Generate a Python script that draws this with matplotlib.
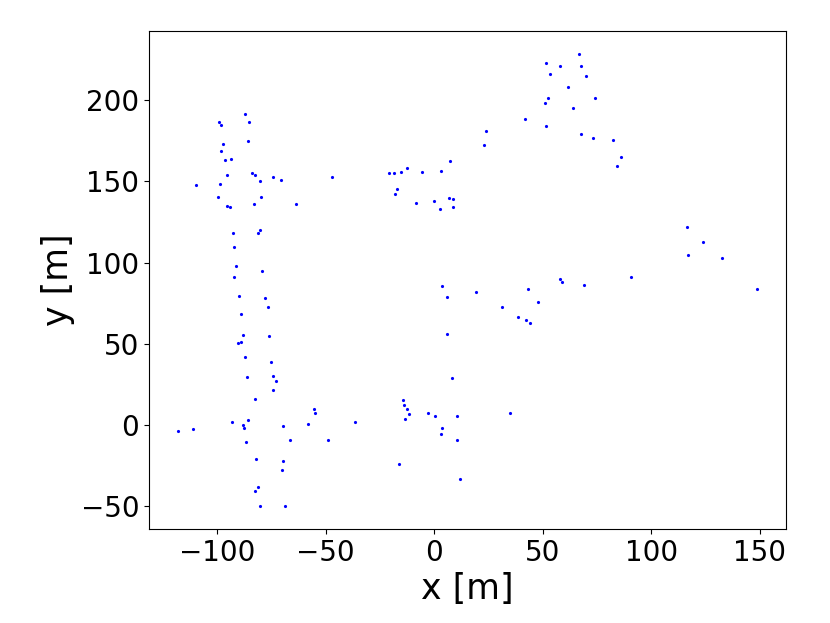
import numpy as np
import matplotlib.pyplot as plt

# puntos (x, y en metros)
x_m = [-87.0, -99.0, -98.1, -85.4, -85.9, -97.2, -98.4, -96.5, -93.8, -95.7,
       -109.8, -98.9, -84.2, -82.6, -80.4, -74.1, -70.8, -47.1, -99.5, -79.9,
       -95.7, -94.3, -82.9, -63.9, -92.8, -80.2, -81.3, -92.1, -91.4, -79.4,
       -92.1, -90.0, -78.2, -76.5, -89.1, -88.2, -76.2, -89.1, -90.2, -87.2,
       -75.1, -86.3, -74.4, -73.1, -74.1, -82.7, -55.2, -55.1, -93.1, -85.6,
       -88.2, -87.7, -69.5, -58.3, -36.7, -118.1, -111.3, -86.6, -66.6, -48.8,
       -82.2, -69.6, -70.2, -81.0, -82.5, -80.2, -68.9,
       8.3, -14.4, -14.1, -12.7, -11.6, -13.5, -2.8, 0.5, 10.6, 34.8,
       3.8, 3.1, 10.3, -16.0, 12.1,
       22.8, 23.9, 7.5, -20.6, -18.5, -15.5, -12.3, -5.7, 3.1, -17.2,
       -18.1, -8.4, 0.0, 7.0, 8.9, 2.9, 8.9,
       3.8, 5.7, 19.2, 6.1, 31.3, 38.8, 42.5, 44.0, 43.4, 47.8, 58.0, 59.0,
       66.8, 51.4, 58.0, 67.6, 53.2, 70.2, 61.6, 52.3, 73.9, 50.9,
       63.9, 41.9, 51.5, 67.6, 73.0, 82.5, 86.3, 84.3,
       69.1, 90.5, 116.7, 123.7, 116.8, 132.8, 149.0]
y_m = [191.5, 186.4, 184.9, 186.8, 174.9, 173.0, 168.7, 163.2, 163.8, 153.7,
       147.8, 148.6, 155.2, 153.7, 150.2, 152.9, 151.1, 152.9, 140.4, 140.6,
       135.0, 134.0, 136.3, 136.1, 118.6, 120.4, 118.6, 109.6, 97.9, 95.2,
       91.5, 79.8, 78.6, 72.5, 68.2, 55.8, 55.2, 51.1, 50.3, 41.7,
       39.0, 29.8, 30.0, 27.3, 21.8, 16.2, 9.7, 7.4, 1.8, 3.3,
       0.4, -1.7, -0.4, 0.6, 2.0, -3.7, -2.5, -10.1, -9.0, -9.0,
       -20.5, -22.0, -27.5, -38.0, -40.6, -49.9, -49.9,
       28.9, 15.6, 12.5, 9.7, 6.6, 3.9, 7.4, 5.7, 5.7, 7.8,
       -1.6, -5.3, -9.4, -23.6, -33.0,
       172.2, 181.0, 162.8, 155.0, 155.2, 155.6, 158.0, 156.0, 156.6, 145.5,
       142.0, 136.9, 137.7, 140.0, 139.2, 133.2, 134.0,
       85.8, 79.2, 81.9, 56.2, 72.5, 66.3, 64.5, 63.2, 83.9, 75.7, 89.7, 88.2,
       228.6, 222.9, 221.2, 221.1, 216.3, 214.9, 208.3, 201.4, 201.4, 198.1,
       195.0, 188.4, 183.9, 179.4, 176.7, 175.3, 164.8, 159.7,
       86.2, 91.5, 121.7, 112.7, 104.9, 102.8, 83.7]

x_m = np.array(x_m)
y_m = np.array(y_m)

fig = plt.figure(figsize=(8.3, 6.23), dpi=100)
ax = fig.add_axes([0.1795, 0.151, 0.768, 0.799])
ax.scatter(x_m, y_m, s=1.6, c='blue')
ax.set_xlabel('x [m]', fontsize=25)
ax.set_ylabel('y [m]', fontsize=25)
ax.tick_params(labelsize=20)

fig.savefig('out.png', dpi=100)
